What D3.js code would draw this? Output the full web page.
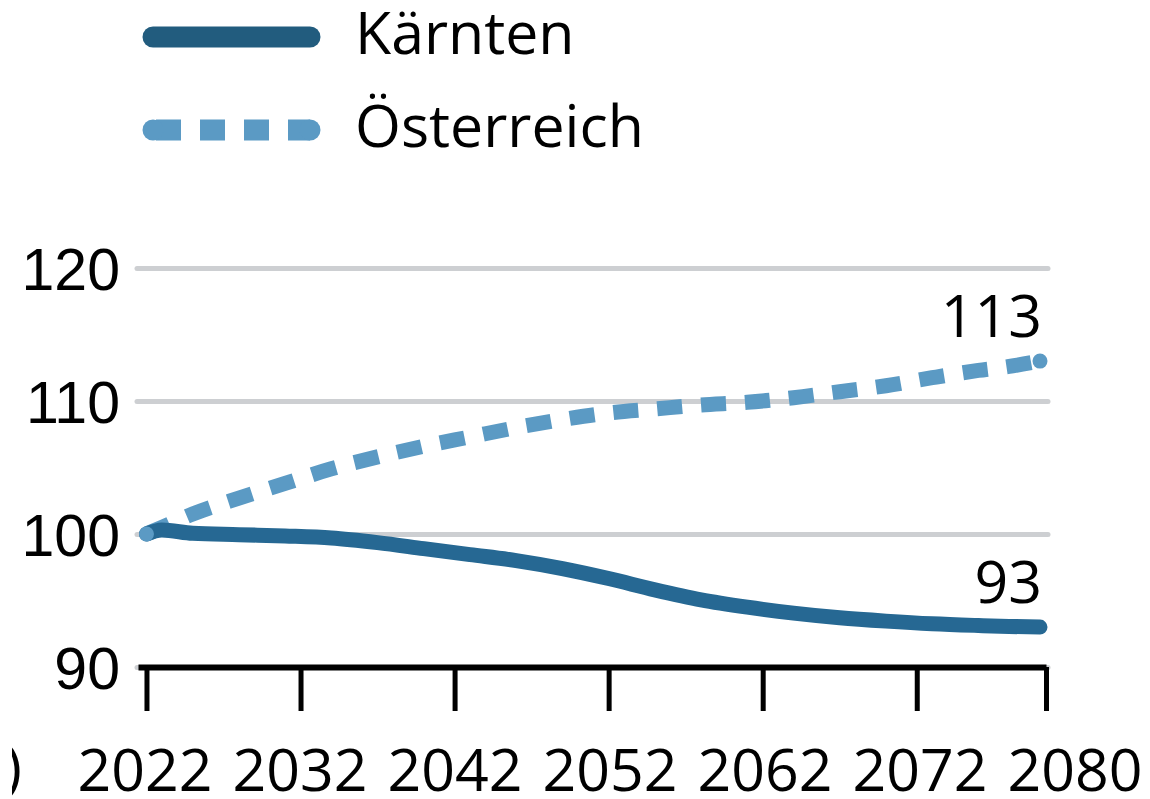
<!DOCTYPE html>
<html>
<head>
<meta charset="utf-8">
<script src="https://cdn.jsdelivr.net/npm/d3@7"></script>
<style>
  html, body { margin: 0; padding: 0; background: #fff; }
  svg { display: block; font-family: "Open Sans", sans-serif; }
</style>
</head>
<body>
<div class="chart"></div>
<script>
// index values (2022 = 100)
const years = [2022, 2023, 2025, 2028, 2031, 2034, 2037, 2040, 2043, 2046, 2049, 2052, 2055, 2058, 2061, 2064, 2067, 2070, 2073, 2076, 2078, 2080];
const kaernten = [100.0, 100.3, 100.05, 99.95, 99.85, 99.7, 99.35, 98.9, 98.45, 98.0, 97.4, 96.65, 95.8, 95.05, 94.5, 94.05, 93.7, 93.45, 93.25, 93.12, 93.05, 93.0];
const oesterreich = [100.0, 100.5, 101.5, 102.7, 103.8, 104.9, 105.8, 106.6, 107.3, 108.0, 108.6, 109.1, 109.4, 109.7, 109.9, 110.25, 110.7, 111.15, 111.75, 112.3, 112.6, 113.0];

const seriesNames = ["Kärnten", "Österreich"];
const xTickYears = [2022, 2032, 2042, 2052, 2062, 2072];
const xLabels = ["2022", "2032", "2042", "2052", "2062", "2072", "2080"];
const yTicks = [90, 100, 110, 120];
const endLabels = ["93", "113"];

const width = 1150, height = 799;
const dark = "#266893", light = "#5b9ac4";
const fontSize = "59px";

const svg = d3.select(".chart")
  .append("svg")
  .attr("width", width)
  .attr("height", height);

const x = d3.scaleLinear().domain([2021.45, 2080.39]).range([138, 1046]);
const y = d3.scaleLinear().domain([90, 120]).range([667, 268]);

// gridlines + y labels
const yAxis = svg.append("g")
  .attr("transform", "translate(137,0)")
  .call(d3.axisLeft(y).tickValues(yTicks).tickSize(-(1048 - 137)).tickPadding(17));
yAxis.select(".domain").remove();
yAxis.selectAll(".tick line")
  .attr("stroke", "#cdcfd2")
  .attr("stroke-width", 5)
  .attr("stroke-linecap", "round");
yAxis.selectAll(".tick text")
  .attr("fill", "#000")
  .style("font-size", fontSize)
  .attr("dy", "0.36em");

// x axis line + ticks
const xAxis = svg.append("g")
  .attr("transform", "translate(0,667)")
  .call(d3.axisBottom(x)
    .tickValues(xTickYears.concat([x.domain()[1]]))
    .tickSizeInner(44)
    .tickSizeOuter(0)
    .tickFormat(""));
xAxis.select(".domain").attr("stroke", "#000").attr("stroke-width", 6);
xAxis.selectAll(".tick line").attr("stroke", "#000").attr("stroke-width", 5);

// year labels sit evenly spaced under the axis
const xl = d3.scalePoint().domain(xLabels).range([145, 1075]);
svg.append("g")
  .selectAll("text")
  .data(xLabels)
  .enter()
  .append("text")
  .attr("x", d => xl(d))
  .attr("y", 791)
  .attr("text-anchor", "middle")
  .style("font-size", fontSize)
  .text(d => d);

// clipped glyph at the left edge
svg.append("clipPath")
  .attr("id", "leftcut")
  .append("rect")
  .attr("x", 12).attr("y", 730).attr("width", 20).attr("height", 69);
svg.append("text")
  .attr("x", 22)
  .attr("y", 788)
  .attr("text-anchor", "end")
  .attr("clip-path", "url(#leftcut)")
  .style("font-size", fontSize)
  .text(")");

const line = d3.line()
  .x(d => x(d[0]))
  .y(d => y(d[1]))
  .curve(d3.curveMonotoneX);

const oeData = years.map((yr, i) => [yr, oesterreich[i]]);
const kaData = years.map((yr, i) => [yr, kaernten[i]]);

svg.append("path")
  .datum(oeData)
  .attr("d", line)
  .attr("fill", "none")
  .attr("stroke", light)
  .attr("stroke-width", 15)
  .attr("stroke-dasharray", "25,19");

svg.append("path")
  .datum(kaData)
  .attr("d", line)
  .attr("fill", "none")
  .attr("stroke", dark)
  .attr("stroke-width", 15)
  .attr("stroke-linecap", "round")
  .attr("stroke-linejoin", "round");

// round end caps for the dashed series
svg.selectAll(".oe-end")
  .data([oeData[0], oeData[oeData.length - 1]])
  .enter()
  .append("circle")
  .attr("cx", d => x(d[0]))
  .attr("cy", d => y(d[1]))
  .attr("r", 7.5)
  .attr("fill", light);

// end value labels
const lastIdx = years.length - 1;
[kaernten[lastIdx], oesterreich[lastIdx]].forEach((v, i) => {
  svg.append("text")
    .attr("x", x(years[lastIdx]) + 2)
    .attr("y", y(v) - 24)
    .attr("text-anchor", "end")
    .style("font-size", fontSize)
    .text(endLabels[i]);
});

// legend
const legend = svg.append("g");
seriesNames.forEach((name, i) => {
  const ly = 37 + i * 93;
  const col = i === 0 ? "#225c7e" : light;
  legend.append("line")
    .attr("x1", 153).attr("x2", 310)
    .attr("y1", ly).attr("y2", ly)
    .attr("stroke", col)
    .attr("stroke-width", 21)
    .attr("stroke-linecap", i === 0 ? "round" : "butt")
    .attr("stroke-dasharray", i === 0 ? null : "25,19")
    .attr("stroke-dashoffset", i === 0 ? null : -3);
  if (i === 1) {
    legend.selectAll(".cap")
      .data([153, 310])
      .enter()
      .append("circle")
      .attr("cx", d => d)
      .attr("cy", ly)
      .attr("r", 10.5)
      .attr("fill", col);
  }
  legend.append("text")
    .attr("x", 355)
    .attr("y", ly + 17)
    .style("font-size", fontSize)
    .text(name);
});
</script>
</body>
</html>
